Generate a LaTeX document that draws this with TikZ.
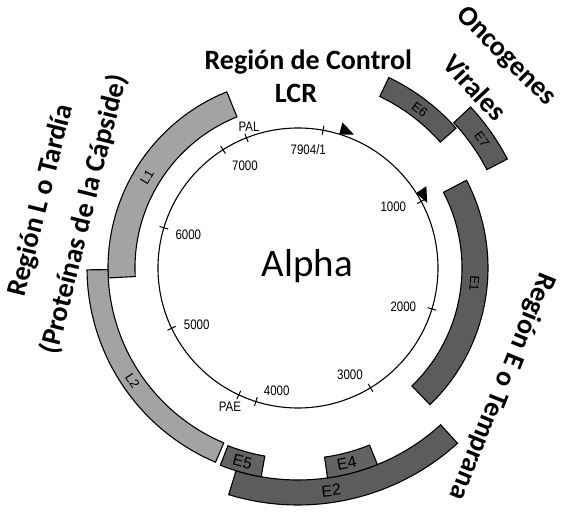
\documentclass[tikz,border=0pt]{standalone}
\usepackage{fontspec}
\setmainfont{Carlito}
\newfontfamily\helv{Liberation Sans}
\definecolor{lgray}{HTML}{A3A3A3}
\definecolor{dgray}{HTML}{5C5C5C}
\definecolor{mgray}{HTML}{636363}
\newcommand\genband[5]{%
  \draw[#5] (#1:#3pt) arc[start angle=#1, end angle=#2, radius=#3pt] -- (#2:#4pt) arc[start angle=#2, end angle=#1, radius=#4pt] -- cycle;}
\newcommand\gtick[1]{\draw[tickline] (#1:135.5pt) -- (#1:144.5pt);}
\newcommand\promo[1]{\fill[rotate=#1-90] (-8,152) -- (-7,139.5) -- (7,144.5) -- cycle;}
\newcommand\tl[1]{\scalebox{0.92}[1.1]{#1}}
\begin{document}
\begin{tikzpicture}[x=1pt,y=1pt,
  bandL/.style={draw=black, line width=1.1pt, fill=lgray},
  bandE/.style={draw=black, line width=1.1pt, fill=dgray},
  bandM/.style={draw=black, line width=1.1pt, fill=mgray},
  tickline/.style={line width=1pt},
  ticklab/.style={font=\helv\fontsize{12.5}{13}\selectfont, inner sep=0pt},
  genelab/.style={font=\helv\fontsize{13}{14}\selectfont, inner sep=0pt},
  bigglab/.style={font=\helv\fontsize{16}{17}\selectfont, inner sep=0pt},
  title/.style={font=\bfseries\fontsize{28}{32}\selectfont, inner sep=0pt}]
\useasboundingbox (-298,-250) rectangle (265,268);
% genome circle
\draw[line width=1.1pt] (0,0) circle[radius=140pt];
\gtick{79.7}\gtick{28.4}\gtick{-17}\gtick{-58.8}\gtick{-107.5}\gtick{-115}
\gtick{-154.5}\gtick{163.3}\gtick{122.4}\gtick{111.6}
\promo{70}\promo{29.5}
% gene bands
\genband{112}{183}{163}{190}{bandL}
\genband{180.5}{247}{190}{211}{bandL}
\genband{41.5}{64.5}{190}{211}{bandE}
\genband{27.5}{43}{213}{236}{bandE}
\genband{-46}{27.5}{164}{190}{bandE}
\genband{-107}{-47.7}{212}{237}{bandE}
\genband{-82}{-68}{191}{212}{bandM}
\genband{-111.5}{-100}{191}{212}{bandM}
% gene labels
\node[genelab, rotate=59] (l1) at (149:176) {L1};
\node[genelab, rotate=-55.6] (l2) at (214.4:200.5) {L2};
\node[genelab, rotate=-95] (e1) at (-5:177) {E1};
\node[genelab, rotate=-37.5] (e6) at (52.5:200) {E6};
\node[genelab, rotate=-55] (e7) at (35:224.5) {E7};
\node[bigglab, rotate=-15] (e5) at (-106:201.5) {E5};
\node[bigglab, rotate=11] (e4) at (-76:201.5) {E4};
\node[bigglab, rotate=6] (e2) at (-81.5:225) {E2};
% tick labels
\node[ticklab] (t7904) at (10.3,118) {\tl{7904/1}};
\node[ticklab] (t7000) at (-53,102) {\tl{7000}};
\node[ticklab] (tpal) at (-49,141.3) {\tl{PAL}};
\node[ticklab] (t6000) at (-109.7,33) {\tl{6000}};
\node[ticklab] (t5000) at (-101.3,-57) {\tl{5000}};
\node[ticklab] (tpae) at (-68,-138.7) {\tl{PAE}};
\node[ticklab] (t4000) at (-21.3,-123) {\tl{4000}};
\node[ticklab] (t3000) at (52,-107) {\tl{3000}};
\node[ticklab] (t2000) at (105.3,-38.7) {\tl{2000}};
\node[ticklab] (t1000) at (95.3,61.3) {\tl{1000}};
% center
\node[font=\fontsize{39}{42}\selectfont, inner sep=0pt, anchor=base] (alpha) at (9.5,-8.7) {Alpha};
% titles
\node[title, anchor=base] (rc) at (10.3,198) {Región de Control};
\node[title, anchor=base] (lcr) at (-2,165) {LCR};
\node[title, rotate=-45] (onco) at (207.8,211.5) {Oncogenes};
\node[title, rotate=-47] (vir) at (177,180.5) {Virales};
\node[title, rotate=76] (regl) at (-256.5,67.5) {Región L o Tardía};
\node[title, rotate=76] (prot) at (-213.8,53.8) {(Proteínas de la Cápside)};
\node[title, rotate=-112] (rege) at (203.7,-118.7) {Región E o Temprana};
\end{tikzpicture}
\end{document}
